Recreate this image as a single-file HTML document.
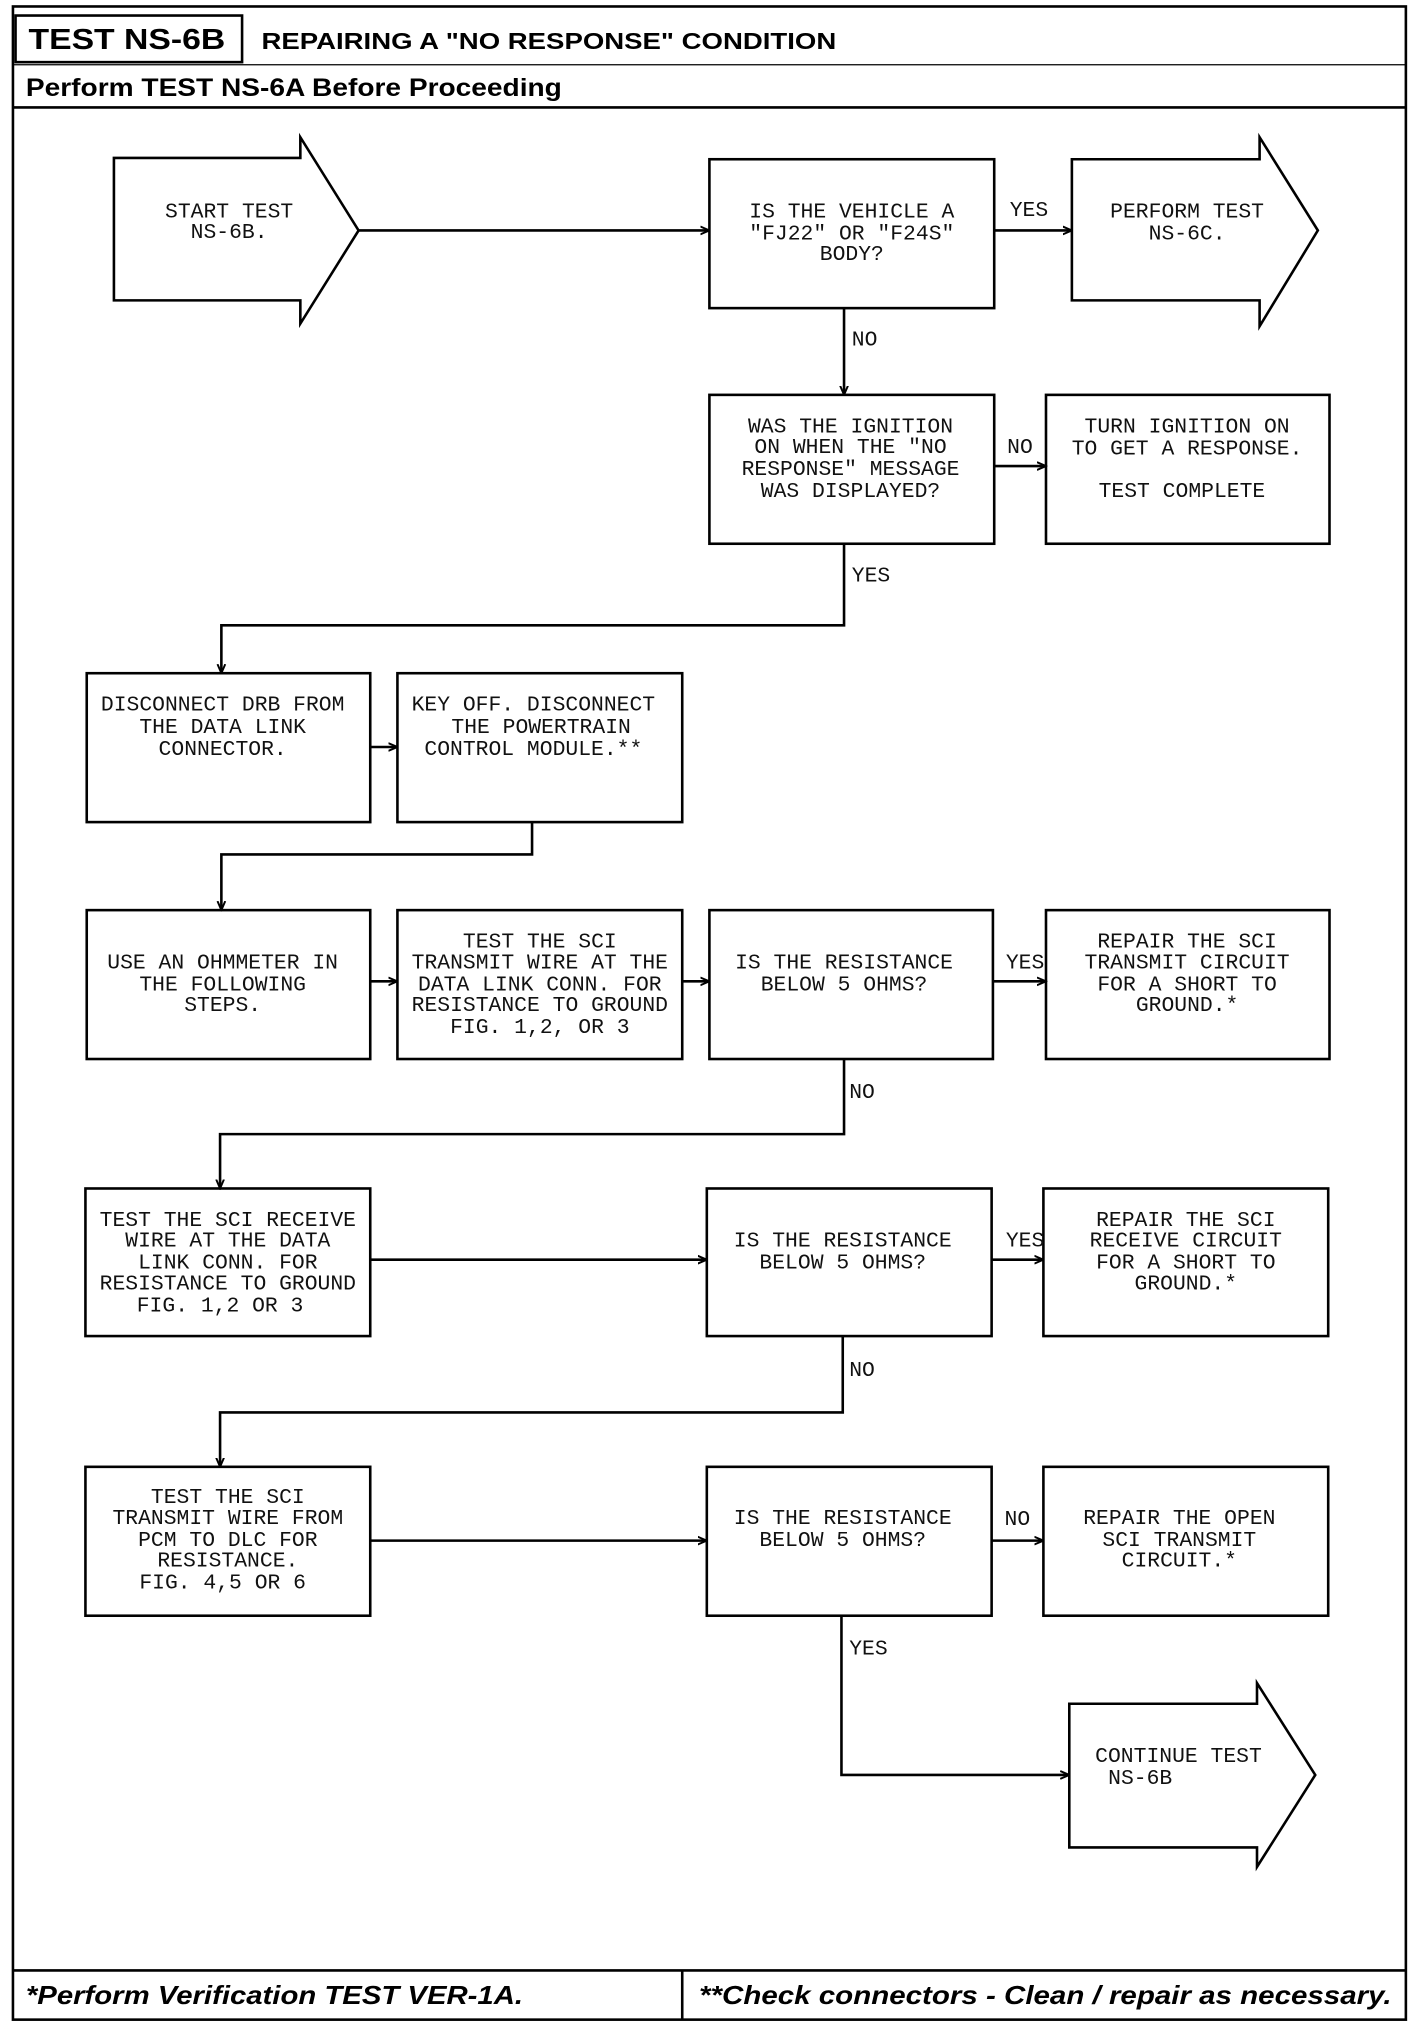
<!DOCTYPE html>
<html><head><meta charset="utf-8"><style>
html,body{margin:0;padding:0;background:#fff;}
svg{display:block;}
.t{font-family:"Liberation Mono",monospace;font-size:16.5px;fill:#111;text-anchor:middle;}
.l{font-family:"Liberation Mono",monospace;font-size:16.5px;fill:#111;}
.h{font-family:"Liberation Sans",sans-serif;font-weight:bold;fill:#000;}
.f{font-family:"Liberation Sans",sans-serif;font-weight:bold;font-style:italic;fill:#000;}
</style></head><body>
<svg width="1424" height="2030" viewBox="0 0 1100 1568" preserveAspectRatio="none" xmlns="http://www.w3.org/2000/svg">
<defs><marker id="a" markerWidth="8" markerHeight="8" refX="7" refY="4" orient="auto" markerUnits="userSpaceOnUse"><path d="M0,1 L7,4 L0,7" fill="none" stroke="#000" stroke-width="1.5"/></marker></defs>
<g fill="none" stroke="#000" stroke-width="2">
<rect x="10" y="5" width="1076" height="1555"/>
<rect x="12" y="12" width="175" height="36"/>
<line x1="10" y1="50" x2="1086" y2="50" stroke-width="1"/>
<line x1="10" y1="83" x2="1086" y2="83"/>
<line x1="10" y1="1522" x2="1086" y2="1522"/>
<line x1="527" y1="1522" x2="527" y2="1560"/>
<!-- shapes -->
<path d="M88,122 H232 V106 L277,178 L232,250 V232 H88 Z"/>
<rect x="548" y="123" width="220" height="115"/>
<path d="M828,123 H973 V106 L1018,178 L973,252 V232 H828 Z"/>
<rect x="548" y="305" width="220" height="115"/>
<rect x="808" y="305" width="219" height="115"/>
<rect x="67" y="520" width="219" height="115"/>
<rect x="307" y="520" width="220" height="115"/>
<rect x="67" y="703" width="219" height="115"/>
<rect x="307" y="703" width="220" height="115"/>
<rect x="548" y="703" width="219" height="115"/>
<rect x="808" y="703" width="219" height="115"/>
<rect x="66" y="918" width="220" height="114"/>
<rect x="546" y="918" width="220" height="114"/>
<rect x="806" y="918" width="220" height="114"/>
<rect x="66" y="1133" width="220" height="115"/>
<rect x="546" y="1133" width="220" height="115"/>
<rect x="806" y="1133" width="220" height="115"/>
<path d="M826,1316 H971 V1300 L1016,1371 L971,1442 V1427 H826 Z"/>
</g>
<g fill="none" stroke="#000" stroke-width="2" marker-end="url(#a)">
<line x1="277" y1="178" x2="548" y2="178"/>
<line x1="768" y1="178" x2="828" y2="178"/>
<line x1="652" y1="238" x2="652" y2="305"/>
<line x1="768" y1="360" x2="808" y2="360"/>
<polyline points="652,420 652,483 171,483 171,520"/>
<line x1="286" y1="577" x2="307" y2="577"/>
<polyline points="411,635 411,660 171,660 171,703"/>
<line x1="286" y1="758" x2="307" y2="758"/>
<line x1="527" y1="758" x2="548" y2="758"/>
<line x1="767" y1="758" x2="808" y2="758"/>
<polyline points="652,818 652,876 170,876 170,918"/>
<line x1="286" y1="973" x2="546" y2="973"/>
<line x1="766" y1="973" x2="806" y2="973"/>
<polyline points="651,1032 651,1091 170,1091 170,1133"/>
<line x1="286" y1="1190" x2="546" y2="1190"/>
<line x1="766" y1="1190" x2="806" y2="1190"/>
<polyline points="650,1248 650,1371 826,1371"/>
</g>
<text class="h" x="22" y="38" font-size="22" textLength="152" lengthAdjust="spacingAndGlyphs">TEST NS-6B</text>
<text class="h" x="202" y="38" font-size="18" textLength="444" lengthAdjust="spacingAndGlyphs">REPAIRING A "NO RESPONSE" CONDITION</text>
<text class="h" x="20" y="74" font-size="19" textLength="414" lengthAdjust="spacingAndGlyphs">Perform TEST NS-6A Before Proceeding</text>
<text class="f" x="20" y="1548" font-size="20" textLength="384" lengthAdjust="spacingAndGlyphs">*Perform Verification TEST VER-1A.</text>
<text class="f" x="540" y="1548" font-size="20" textLength="535" lengthAdjust="spacingAndGlyphs">**Check connectors - Clean / repair as necessary.</text>
<g class="t">
<text x="177" y="168">START TEST</text><text x="177" y="184">NS-6B.</text>
<text x="658" y="168">IS THE VEHICLE A</text><text x="658" y="185">"FJ22" OR "F24S"</text><text x="658" y="201">BODY?</text>
<text x="917" y="168">PERFORM TEST</text><text x="917" y="185">NS-6C.</text>
<text x="657" y="334">WAS THE IGNITION</text><text x="657" y="350">ON WHEN THE "NO</text><text x="657" y="367">RESPONSE" MESSAGE</text><text x="657" y="384">WAS DISPLAYED?</text>
<text x="917" y="334">TURN IGNITION ON</text><text x="917" y="351">TO GET A RESPONSE.</text><text x="913" y="384">TEST COMPLETE</text>
<text x="172" y="549">DISCONNECT DRB FROM</text><text x="172" y="566">THE DATA LINK</text><text x="172" y="583">CONNECTOR.</text>
<text x="412" y="549">KEY OFF. DISCONNECT</text><text x="418" y="566">THE POWERTRAIN</text><text x="412" y="583">CONTROL MODULE.**</text>
<text x="172" y="748">USE AN OHMMETER IN</text><text x="172" y="765">THE FOLLOWING</text><text x="172" y="781">STEPS.</text>
<text x="417" y="732">TEST THE SCI</text><text x="417" y="748">TRANSMIT WIRE AT THE</text><text x="417" y="765">DATA LINK CONN. FOR</text><text x="417" y="781">RESISTANCE TO GROUND</text><text x="417" y="798">FIG. 1,2, OR 3</text>
<text x="652" y="748">IS THE RESISTANCE</text><text x="652" y="765">BELOW 5 OHMS?</text>
<text x="917" y="732">REPAIR THE SCI</text><text x="917" y="748">TRANSMIT CIRCUIT</text><text x="917" y="765">FOR A SHORT TO</text><text x="917" y="781">GROUND.*</text>
<text x="176" y="947">TEST THE SCI RECEIVE</text><text x="176" y="963">WIRE AT THE DATA</text><text x="176" y="980">LINK CONN. FOR</text><text x="176" y="996">RESISTANCE TO GROUND</text><text x="170" y="1013">FIG. 1,2 OR 3</text>
<text x="651" y="963">IS THE RESISTANCE</text><text x="651" y="980">BELOW 5 OHMS?</text>
<text x="916" y="947">REPAIR THE SCI</text><text x="916" y="963">RECEIVE CIRCUIT</text><text x="916" y="980">FOR A SHORT TO</text><text x="916" y="996">GROUND.*</text>
<text x="176" y="1161">TEST THE SCI</text><text x="176" y="1177">TRANSMIT WIRE FROM</text><text x="176" y="1194">PCM TO DLC FOR</text><text x="176" y="1210">RESISTANCE.</text><text x="172" y="1227">FIG. 4,5 OR 6</text>
<text x="651" y="1177">IS THE RESISTANCE</text><text x="651" y="1194">BELOW 5 OHMS?</text>
<text x="911" y="1177">REPAIR THE OPEN</text><text x="911" y="1194">SCI TRANSMIT</text><text x="911" y="1210">CIRCUIT.*</text>
</g>
<g class="l">
<text x="846" y="1361">CONTINUE TEST</text><text x="856" y="1378">NS-6B</text>
<text x="780" y="167">YES</text><text x="658" y="267">NO</text><text x="778" y="350">NO</text><text x="658" y="449">YES</text>
<text x="777" y="748">YES</text><text x="656" y="848">NO</text><text x="777" y="963">YES</text><text x="656" y="1063">NO</text>
<text x="776" y="1178">NO</text><text x="656" y="1278">YES</text>
</g>
</svg>
</body></html>
